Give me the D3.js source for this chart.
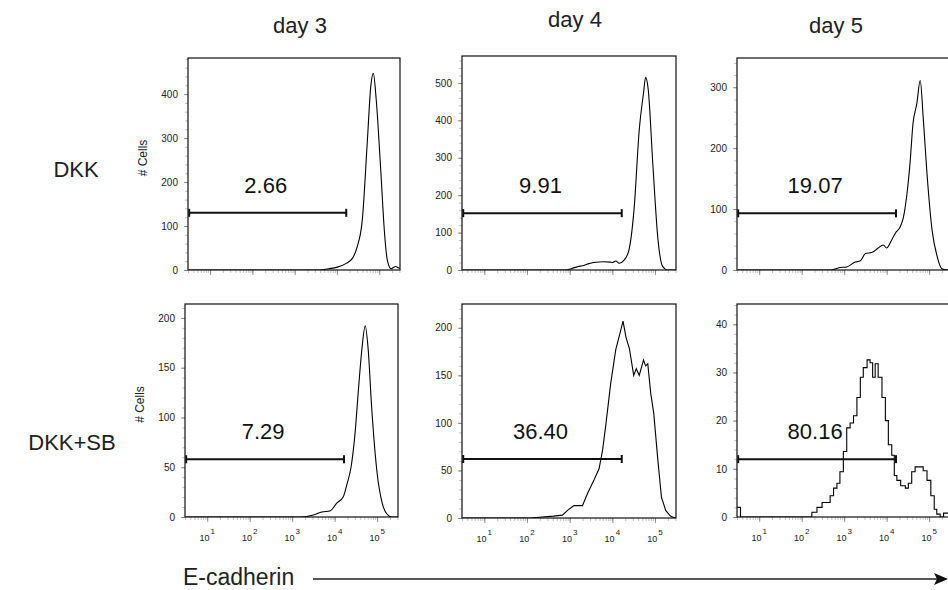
<!DOCTYPE html>
<html>
<head>
<meta charset="utf-8">
<script src="https://cdn.jsdelivr.net/npm/d3@7"></script>
<style>
  html, body { margin: 0; padding: 0; background: #fff; }
  svg { display: block; font-family: "Liberation Sans", Arial, Helvetica, sans-serif; }
</style>
</head>
<body>
<svg id="chart" width="948" height="590"></svg>
<script>
// ---------------- DATA ----------------
const columns = ["day 3", "day 4", "day 5"];
const rows = ["DKK", "DKK+SB"];
const yAxisTitle = "# Cells";
const xAxisTitle = "E-cadherin";
const gateLabels = [["2.66", "9.91", "19.07"], ["7.29", "36.40", "80.16"]];
const gateCounts = [[130, 152, 93], [58, 62, 12]];
const gateRange = [3.2, 16600];
const yMaxima = [[482, 572, 348], [214, 225, 44.2]];
const yTickValues = [
  [[0, 100, 200, 300, 400], [0, 100, 200, 300, 400, 500], [0, 100, 200, 300]],
  [[0, 50, 100, 150, 200], [0, 50, 100, 150, 200], [0, 10, 20, 30, 40]]
];
const xTickValues = [10, 100, 1000, 10000, 100000];
const xDomain = [3, 310000];

// histogram series: [log10 fluorescence, cell count]
const dkkDay3 = [[0.5,0],[3.59,0],[3.8,3],[3.99,6],[4.22,15],[4.37,27],[4.48,53],[4.6,114],[4.72,295],[4.8,417],[4.86,447],[4.93,386],[5.04,220],[5.12,91],[5.19,23],[5.28,3],[5.34,6],[5.39,8],[5.45,5],[5.49,4]];
const dkkDay4 = [[0.5,0],[2.9,0],[3.05,4],[3.19,9],[3.33,12],[3.45,17],[3.56,20],[3.8,22],[3.95,21],[4.0,20],[4.08,24],[4.16,18],[4.28,27],[4.39,54],[4.51,164],[4.63,374],[4.73,473],[4.78,515],[4.84,483],[4.95,280],[5.07,80],[5.18,9],[5.3,0],[5.49,0]];
const dkkDay5 = [[0.5,0],[2.67,0],[2.9,4],[3.06,5],[3.26,13],[3.38,15],[3.5,27],[3.66,29],[3.8,36],[3.92,41],[4.0,36],[4.08,44],[4.2,60],[4.32,71],[4.39,85],[4.48,126],[4.55,175],[4.62,240],[4.71,273],[4.79,311],[4.86,251],[4.95,158],[5.07,65],[5.19,22],[5.3,2],[5.42,0],[5.49,3]];
const dkkSbDay3 = [[0.5,0],[3.19,0],[3.5,2],[3.7,5],[3.89,6],[4.05,14],[4.2,20],[4.29,33],[4.39,51],[4.48,84],[4.56,128],[4.64,168],[4.72,192],[4.79,168],[4.87,111],[5.0,44],[5.12,14],[5.23,3],[5.35,0],[5.49,0]];
const dkkSbDay4 = [[0.5,0],[2.08,0],[2.62,2],[2.83,3],[2.95,8],[3.1,13],[3.3,13],[3.42,26],[3.57,40],[3.69,52],[3.77,71],[3.85,99],[3.96,141],[4.08,177],[4.16,191],[4.25,207],[4.32,190],[4.4,178],[4.5,150],[4.56,157],[4.63,150],[4.73,166],[4.78,160],[4.83,162],[4.9,131],[4.97,110],[5.06,64],[5.15,22],[5.25,8],[5.36,2],[5.46,0],[5.49,0]];
const dkkSbDay5 = [[0.48,2],[0.53,2],[0.56,0],[2.2,0],[2.24,1],[2.36,2],[2.48,3],[2.6,3],[2.67,4.4],[2.75,6],[2.83,7],[2.9,9.4],[2.98,13.6],[3.06,18.5],[3.14,19.5],[3.22,21],[3.3,24.8],[3.38,29],[3.45,31],[3.54,32.6],[3.61,32],[3.67,29],[3.73,31.8],[3.8,29],[3.89,24.8],[3.97,20],[4.04,15],[4.12,12.8],[4.18,8.6],[4.24,7.6],[4.33,6.5],[4.44,6],[4.51,7],[4.59,9.4],[4.67,10.4],[4.79,10.4],[4.86,9.6],[4.95,7.6],[5.04,4.4],[5.12,1.6],[5.18,0.6],[5.26,0],[5.34,0.8],[5.49,0.8]];
const series = [[dkkDay3, dkkDay4, dkkDay5], [dkkSbDay3, dkkSbDay4, dkkSbDay5]];

// ---------------- LAYOUT ----------------
const panels = [
  [{x:188,y:58,w:212,h:212},{x:462,y:56,w:214,h:214},{x:737,y:58,w:213,h:212}],
  [{x:185,y:304,w:213,h:213},{x:462,y:304,w:214,h:214},{x:737,y:304,w:213,h:213}]
];
const curves = [[d3.curveMonotoneX, d3.curveMonotoneX, d3.curveMonotoneX],
                [d3.curveMonotoneX, d3.curveLinear, d3.curveStepAfter]];
const headerPos = [{x:300,y:33},{x:575,y:27},{x:836,y:33}];
const rowPos = [{x:76,y:177},{x:72,y:450}];

const svg = d3.select("#chart");
svg.append("rect").attr("width",948).attr("height",590).attr("fill","#fff");
const defs = svg.append("defs");

columns.forEach((c,i)=>{
  svg.append("text").attr("x",headerPos[i].x).attr("y",headerPos[i].y)
    .attr("text-anchor","middle").attr("font-size",22).attr("fill","#222").text(c);
});
rows.forEach((r,i)=>{
  svg.append("text").attr("x",rowPos[i].x).attr("y",rowPos[i].y)
    .attr("text-anchor","middle").attr("font-size",22).attr("fill","#222").text(r);
});

rows.forEach((r,ri)=>{
  columns.forEach((c,ci)=>{
    const p = panels[ri][ci];
    const g = svg.append("g").attr("transform",`translate(${p.x},${p.y})`);
    const x = d3.scaleLog().domain(xDomain).range([0,p.w]);
    const y = d3.scaleLinear().domain([0,yMaxima[ri][ci]]).range([p.h,0]);

    // y minor ticks
    const step = yTickValues[ri][ci][1];
    const minor = d3.range(0, yMaxima[ri][ci], step/5);
    g.append("g").call(d3.axisLeft(y).tickValues(minor).tickSize(3).tickFormat(""))
      .call(a=>a.select(".domain").remove())
      .call(a=>a.selectAll("line").attr("stroke","#999").attr("stroke-width",0.6));
    // y major ticks
    g.append("g").call(d3.axisLeft(y).tickValues(yTickValues[ri][ci]).tickSize(4).tickPadding(6).tickFormat(d3.format("d")))
      .call(a=>a.select(".domain").remove())
      .call(a=>a.selectAll("line").attr("stroke","#777").attr("stroke-width",0.8))
      .call(a=>a.selectAll("text").attr("font-size",10).attr("fill","#222")
        .attr("font-family",'"Liberation Sans", Arial, sans-serif'));

    // x minor log ticks
    const minorX = [];
    for (let e=0;e<=5;e++) for (let k=1;k<=9;k++){ const v=k*Math.pow(10,e); if(v>=xDomain[0]&&v<=xDomain[1]) minorX.push(v); }
    g.append("g").attr("transform",`translate(0,${p.h})`)
      .call(d3.axisBottom(x).tickValues(minorX).tickSize(3).tickFormat(""))
      .call(a=>a.select(".domain").remove())
      .call(a=>a.selectAll("line").attr("stroke","#999").attr("stroke-width",0.6));
    const xMaj = g.append("g").attr("transform",`translate(0,${p.h})`)
      .call(d3.axisBottom(x).tickValues(xTickValues).tickSize(5).tickFormat(""))
      .call(a=>a.select(".domain").remove())
      .call(a=>a.selectAll("line").attr("stroke","#777").attr("stroke-width",0.8));
    if (ri===1) {
      xTickValues.forEach(v=>{
        const e = Math.round(Math.log10(v));
        const t = g.append("text").attr("x",x(v)).attr("y",p.h+24)
          .attr("text-anchor","middle").attr("font-size",9).attr("fill","#222");
        t.append("tspan").text("10");
        t.append("tspan").attr("dy",-7).attr("dx",1).attr("font-size",8).text(e);
      });
    }

    // clip
    const cid = `clip-${ri}-${ci}`;
    defs.append("clipPath").attr("id",cid).append("rect").attr("width",p.w).attr("height",p.h);

    // histogram line
    const line = d3.line().x(d=>x(Math.pow(10,d[0]))).y(d=>y(d[1])).curve(curves[ri][ci]);
    g.append("path").datum(series[ri][ci]).attr("clip-path",`url(#${cid})`)
      .attr("d",line).attr("fill","none").attr("stroke","#000").attr("stroke-width",1.1);

    // frame
    g.append("rect").attr("width",p.w).attr("height",p.h)
      .attr("fill","none").attr("stroke","#111").attr("stroke-width",1.2);

    // gate
    const gy = y(gateCounts[ri][ci]);
    const gx0 = x(gateRange[0]), gx1 = x(gateRange[1]);
    const gg = g.append("g").attr("stroke","#111").attr("stroke-width",2);
    gg.append("line").attr("x1",gx0).attr("x2",gx1).attr("y1",gy).attr("y2",gy);
    gg.append("line").attr("x1",gx0).attr("x2",gx0).attr("y1",gy-4).attr("y2",gy+4);
    gg.append("line").attr("x1",gx1).attr("x2",gx1).attr("y1",gy-4).attr("y2",gy+4);
    g.append("text").attr("x",(gx0+gx1)/2-2).attr("y",gy-20)
      .attr("text-anchor","middle").attr("font-size",22).attr("fill","#111").text(gateLabels[ri][ci]);

    if (ci===0) {
      const cy = p.h/2 + (ri===0 ? -6 : -6);
      svg.append("text").attr("transform",`translate(${p.x-41},${p.y+cy}) rotate(-90)`)
        .attr("text-anchor","middle").attr("font-size",12).attr("fill","#222").text(yAxisTitle);
    }
  });
});

// x axis title + arrow
svg.append("text").attr("x",183).attr("y",585).attr("font-size",23).attr("fill","#222").text(xAxisTitle);
svg.append("line").attr("x1",313).attr("x2",938).attr("y1",579).attr("y2",579)
  .attr("stroke","#222").attr("stroke-width",1.5);
svg.append("path").attr("d","M948,579 L934,573 L937,579 L934,585 Z").attr("fill","#111");
</script>
</body>
</html>
